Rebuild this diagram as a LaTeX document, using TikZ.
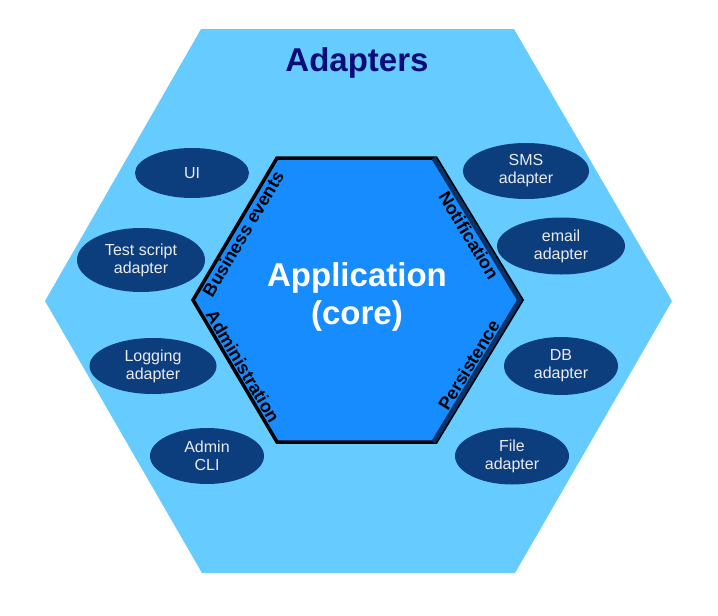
\documentclass[tikz,border=0pt]{standalone}
\usepackage{fontspec}
\setmainfont{Liberation Sans}
\usetikzlibrary{shapes.geometric}
\definecolor{outerblue}{RGB}{102,204,255}
\definecolor{coreblue}{RGB}{22,140,255}
\definecolor{portnavy}{RGB}{12,62,126}
\definecolor{titlenavy}{RGB}{12,12,120}
\definecolor{edgenavy}{RGB}{8,50,105}
\tikzstyle{adapter} = [ellipse, fill=portnavy, text=white!92!black, inner sep=0pt, align=center, minimum width=120pt, minimum height=56pt, font=\fontsize{16}{18}\selectfont]
\tikzstyle{port} = [font=\fontsize{18}{20}\selectfont\bfseries, inner sep=2.5pt, sloped]

\begin{document}
\begin{tikzpicture}[x=1pt, y=-1pt]
        \useasboundingbox (0,0) rectangle (718,616);

        % outer hexagon
        \fill[outerblue] (201,29) -- (514,29) -- (672,301) -- (515,573) -- (202,573) -- (45,301) -- cycle;
        \node[text=titlenavy, font=\fontsize{33}{36}\selectfont\bfseries] (title) at (357,63) {Adapters};

        % core hexagon
        \coordinate (tl) at (277,158);
        \coordinate (tr) at (436,158);
        \coordinate (r) at (522,300);
        \coordinate (br) at (436,442);
        \coordinate (bl) at (277,442);
        \coordinate (l) at (193,300);
        \draw[fill=coreblue, line width=3.5pt, line join=miter] (tl) -- (tr) -- (r) -- (br) -- (bl) -- (l) -- cycle;
        \draw[edgenavy, line width=4.5pt, line join=miter] ([xshift=-2.5pt]tr) -- ([xshift=-2.5pt]r) -- ([xshift=-2.5pt]br);

        \node[text=white, align=center, font=\fontsize{33}{38}\selectfont\bfseries] (app) at (357,297) {Application\\(core)};

        \path (l) -- (tl) node[port, midway, anchor=north] (busev) {Business events};
        \path (l) -- (bl) node[port, midway, anchor=south] (adminport) {Administration};
        \path (tr) -- (r) node[port, midway, anchor=north, inner sep=5pt] (notif) {Notification};
        \path (br) -- (r) node[port, midway, anchor=south, inner sep=5pt] (persist) {Persistence};

        % adapters
        \node[adapter, minimum width=114pt, minimum height=50pt] (ui) at (192,173) {UI};
        \node[adapter, minimum width=128pt, minimum height=64pt] (test) at (141,260) {Test script\\adapter};
        \node[adapter, minimum width=127pt] (log) at (153,366) {Logging\\adapter};
        \node[adapter, minimum width=114pt] (admin) at (207,456) {Admin\\CLI};
        \node[adapter, minimum width=126pt] (sms) at (526,171) {SMS\\adapter};
        \node[adapter, minimum width=128pt, minimum height=57pt] (email) at (561,246) {email\\adapter};
        \node[adapter, minimum width=114pt, minimum height=58pt] (db) at (561,366) {DB\\adapter};
        \node[adapter, minimum width=114pt, minimum height=57pt] (file) at (512,456) {File\\adapter};
    \end{tikzpicture}
\end{document}
